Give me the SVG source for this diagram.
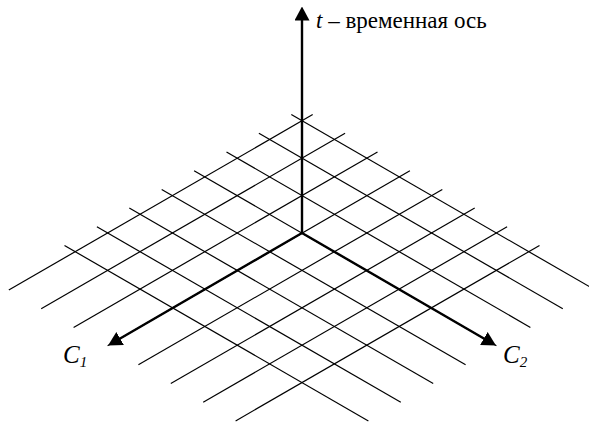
<svg xmlns="http://www.w3.org/2000/svg" width="589" height="423" viewBox="0 0 589 423">
<style>
.g line{stroke:#000;stroke-width:1.2;fill:none}
.ax{stroke:#000;stroke-width:2.4;fill:none;marker-end:url(#ah)}
.lbl{font-family:"Liberation Serif","Times New Roman",serif;fill:#000}
.it{font-style:italic}
</style>
<defs>
<marker id="ah" markerUnits="userSpaceOnUse" markerWidth="14" markerHeight="15" viewBox="0 0 14 15" refX="0.5" refY="7.5" orient="auto">
<path d="M0,0 L14,7.5 L0,15 Z" fill="#000"/>
</marker>
</defs>
<rect width="589" height="423" fill="#fff"/>
<g id="grid" class="g">
<line x1="291.3" y1="114.6" x2="595.2" y2="290.0"/>
<line x1="258.9" y1="133.3" x2="562.8" y2="308.7"/>
<line x1="226.5" y1="152.0" x2="530.4" y2="327.4"/>
<line x1="194.1" y1="170.7" x2="496.4" y2="345.7"/>
<line x1="161.7" y1="189.4" x2="465.6" y2="364.8"/>
<line x1="129.3" y1="208.1" x2="433.2" y2="383.5"/>
<line x1="96.9" y1="226.8" x2="400.8" y2="402.2"/>
<line x1="64.5" y1="245.5" x2="368.4" y2="420.9"/>
<line x1="312.7" y1="114.6" x2="8.8" y2="290.0"/>
<line x1="345.1" y1="133.3" x2="41.2" y2="308.7"/>
<line x1="377.5" y1="152.0" x2="73.6" y2="327.4"/>
<line x1="409.9" y1="170.7" x2="107.6" y2="345.7"/>
<line x1="442.3" y1="189.4" x2="138.4" y2="364.8"/>
<line x1="474.7" y1="208.1" x2="170.8" y2="383.5"/>
<line x1="507.1" y1="226.8" x2="203.2" y2="402.2"/>
<line x1="539.5" y1="245.5" x2="235.6" y2="420.9"/>
</g>
<g id="connectors">
<line id="axis-t" class="ax" x1="302" y1="233" x2="302" y2="20"/>
<line id="axis-c1" class="ax" x1="302" y1="233" x2="119.7" y2="338.7"/>
<line id="axis-c2" class="ax" x1="302" y1="233" x2="484.3" y2="338.7"/>
</g>
<g id="label-t">
<text class="lbl" x="316" y="28" font-size="23"><tspan class="it">t</tspan> – временная ось</text>
</g>
<g id="label-c1">
<text class="lbl it" x="63" y="363" font-size="25">C<tspan font-size="15" dy="4">1</tspan></text>
</g>
<g id="label-c2">
<text class="lbl it" x="503" y="363" font-size="25">C<tspan font-size="15" dy="4">2</tspan></text>
</g>
</svg>
